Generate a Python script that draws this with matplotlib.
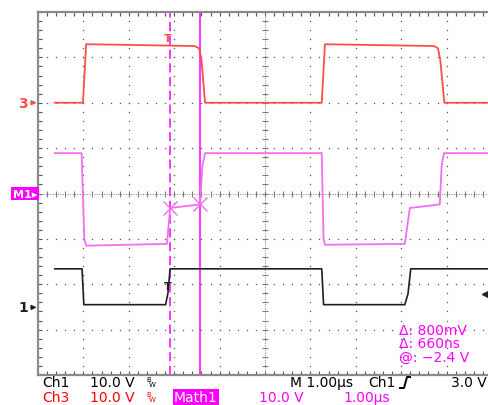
import numpy as np
import matplotlib
matplotlib.use("Agg")
import matplotlib.pyplot as plt
from matplotlib.lines import Line2D

# scope settings: 10 div x 8 div, 1 us/div, 10 V/div on every channel
VOLTS_PER_DIV = 10.0
CH3_GROUND = 2.0      # div
MATH_GROUND = 0.0     # div
CH1_GROUND = -2.51    # div

# channel 3 (red), time in us from left edge, level in V
ch3_t = [0.37, 0.99, 1.06, 3.45, 3.55, 3.60, 3.68, 6.25, 6.32, 8.72, 8.81, 8.86, 8.95, 9.93]
ch3_v = [0.0, 0.0, 12.9, 12.5, 12.0, 9.5, 0.0, 0.0, 12.9, 12.5, 12.0, 9.5, 0.0, 0.0]

# math1 (magenta)
math_t = [0.37, 0.96, 1.02, 1.06, 2.84, 2.91, 3.57, 3.62, 3.68, 6.25, 6.29, 6.32, 8.08, 8.19, 8.85, 8.89, 8.94, 9.93]
math_v = [8.9, 8.9, -10.0, -11.5, -11.1, -3.2, -2.4, 6.0, 8.9, 8.9, -10.0, -11.3, -11.1, -3.2, -2.4, 6.0, 8.9, 8.9]

# channel 1 (black)
ch1_t = [0.37, 0.97, 1.01, 2.81, 2.86, 2.91, 6.25, 6.29, 8.08, 8.15, 8.21, 9.93]
ch1_v = [8.5, 8.5, 0.6, 0.6, 3.0, 8.5, 8.5, 0.6, 0.6, 3.0, 8.5, 8.5]

# cursors (time in us, level in V on math1)
cursor_t = [2.91, 3.57]
cursor_v = [-3.2, -2.4]
trigger_t = 2.86
trigger_level = 3.0

measure_lines = ["\u0394: 800mV", "\u0394: 660ns", "@: \u22122.4 V"]

W, H = 489, 406
RED = "#ff4d4d"
PINK = "#f070f0"
MAG = "#ff00ff"
GRAY = "#7a7a7a"


def to_div(values, ground):
    return [ground + v / VOLTS_PER_DIV for v in values]


def ftext(x, y, s, **kwargs):
    """Текст в пиксельных координатах фигуры (y сверху)"""
    kwargs.setdefault("fontsize", 10)
    kwargs.setdefault("va", "center")
    return fig.text(x / W, 1 - y / H, s, **kwargs)


fig = plt.figure(figsize=(W / 100, H / 100), dpi=100)
fig.patch.set_facecolor("white")
ax = fig.add_axes([38 / W, (H - 376) / H, 454 / W, 363 / H])
ax.set_xlim(0, 10)
ax.set_ylim(-4, 4)

# graticule dots
minor = np.arange(-4, 4.01, 0.2)
minor_x = np.arange(0, 10.01, 0.2)
for k in range(1, 10):
    if k == 5:
        continue
    ax.plot([k] * len(minor), minor, ls="none", marker="s", ms=0.9,
            color="#555555", mew=0)
for j in range(-3, 4):
    if j == 0:
        continue
    ax.plot(minor_x, [j] * len(minor_x), ls="none", marker="s", ms=0.9,
            color="#555555", mew=0)

# centre cross hair
ax.axhline(0, ls=(0, (1, 1.5)), lw=0.7, color=GRAY)
ax.axvline(5, ls=(0, (1, 1.5)), lw=0.7, color=GRAY)
ax.plot(minor_x, [0] * len(minor_x), ls="none", marker="|", ms=5,
        color=GRAY, mew=0.8)
ax.plot([5] * len(minor), minor, ls="none", marker="_", ms=5,
        color=GRAY, mew=0.8)

# frame
for sp in ax.spines.values():
    sp.set_color("#8a8a8a")
    sp.set_linewidth(1.6)
ax.set_xticks(np.arange(0, 11, 1))
ax.set_yticks(np.arange(-4, 5, 1))
ax.set_xticks(minor_x, minor=True)
ax.set_yticks(minor, minor=True)
ax.tick_params(which="both", direction="in", length=3, width=0.8,
               color="#555555", top=True, right=True,
               labelbottom=False, labelleft=False)

# cursors
ax.axvline(cursor_t[0], color=MAG, lw=1.1, ls=(0, (6, 3)))
ax.axvline(cursor_t[1], color=MAG, lw=1.1)

# traces
ax.plot(ch3_t, to_div(ch3_v, CH3_GROUND), color=RED, lw=1.3)
ax.plot(math_t, to_div(math_v, MATH_GROUND), color=PINK, lw=1.3)
ax.plot(ch1_t, to_div(ch1_v, CH1_GROUND), color="#202020", lw=1.2)

# cursor crosses on math1
ax.plot(cursor_t, to_div(cursor_v, MATH_GROUND), ls="none", marker="x",
        ms=10, mew=1.0, color=PINK)

# trigger position markers
ax.text(trigger_t, 3.42, "T", color=RED, fontsize=8, fontweight="bold",
        ha="center", va="center")
ax.text(trigger_t, -2.03, "T", color="#202020", fontsize=8,
        fontweight="bold", ha="center", va="center")
# trigger level
ax.plot([9.86], [CH1_GROUND + trigger_level / VOLTS_PER_DIV], marker="<",
        ms=6, color="#202020", clip_on=False)

# ground markers
ax.annotate("3", xy=(0, CH3_GROUND), xytext=(-0.22, CH3_GROUND),
            color=RED, fontsize=10, fontweight="bold", ha="right",
            va="center", annotation_clip=False,
            arrowprops=dict(arrowstyle="-|>", color=RED, lw=1.0,
                            mutation_scale=7, shrinkA=0, shrinkB=1))
ax.annotate("1", xy=(0, CH1_GROUND), xytext=(-0.22, CH1_GROUND),
            color="#202020", fontsize=10, fontweight="bold", ha="right",
            va="center", annotation_clip=False,
            arrowprops=dict(arrowstyle="-|>", color="#202020", lw=1.0,
                            mutation_scale=7, shrinkA=0, shrinkB=1))
ax.text(-0.02, MATH_GROUND, "M1\u25b8", color="white", fontsize=8,
        fontweight="bold", ha="right", va="center", clip_on=False,
        bbox=dict(boxstyle="square,pad=0.15", fc=MAG, ec="none"))

# measurements
for i, line in enumerate(measure_lines):
    ftext(399, 331 + 13.5 * i, line, color=MAG)

# status lines
ftext(42, 383, "Ch1", color="black")
ftext(90, 383, "10.0 V", color="black")
ftext(146, 380, "B", color="black", fontsize=5)
ftext(149, 385, "W", color="black", fontsize=5)
ftext(290, 383, "M 1.00\u00b5s", color="black")
ftext(368, 383, "Ch1", color="black")
fig.add_artist(Line2D([400 / W, 404 / W, 407 / W, 410 / W],
                      [1 - 389 / H, 1 - 389 / H, 1 - 378 / H, 1 - 378 / H],
                      color="black", lw=1.4))
ftext(487, 383, "3.0 V", color="black", ha="right")

ftext(42, 398, "Ch3", color="red")
ftext(90, 398, "10.0 V", color="red")
ftext(146, 395, "B", color="red", fontsize=5)
ftext(149, 400, "W", color="red", fontsize=5)
ftext(174, 398, "Math1", color="white",
      bbox=dict(boxstyle="square,pad=0.1", fc=MAG, ec="none"))
ftext(259, 398, "10.0 V", color=MAG)
ftext(343, 398, "1.00\u00b5s", color=MAG)

fig.savefig("out.png", dpi=100, facecolor="white")
